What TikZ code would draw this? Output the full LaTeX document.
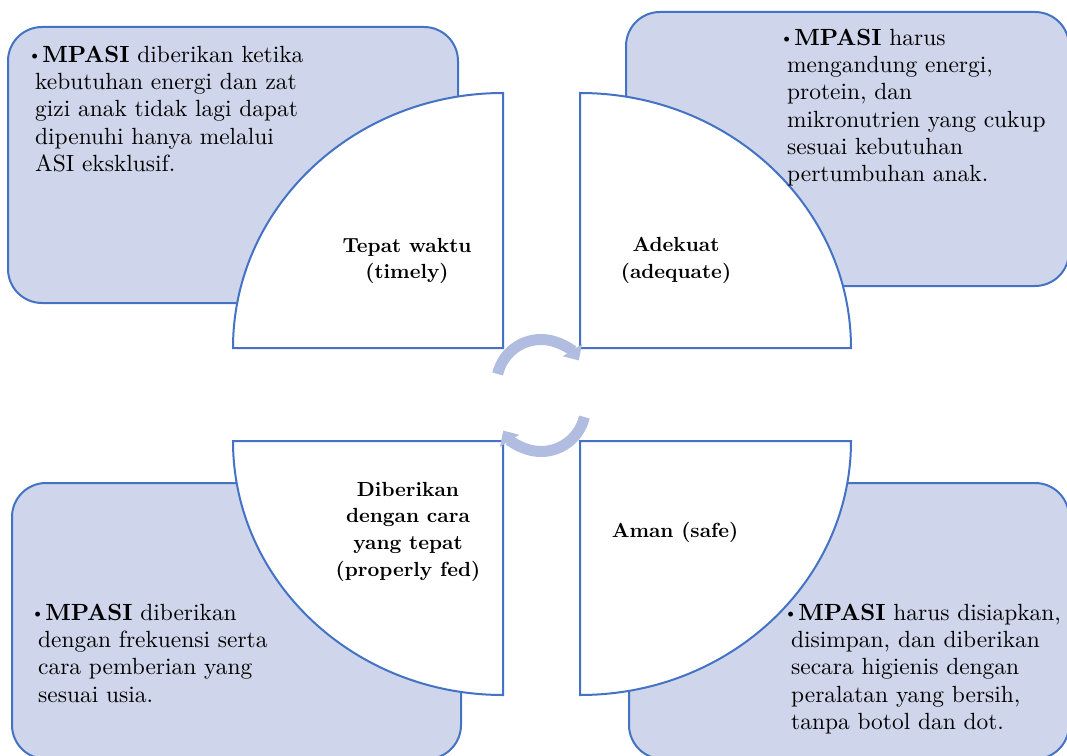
\documentclass[tikz,border=0pt]{standalone}
\usepackage{fontspec}
\setmainfont{lmroman10-regular.otf}[BoldFont=lmroman10-bold.otf]
\usetikzlibrary{arrows.meta}
\definecolor{Frame}{HTML}{4472C4}
\definecolor{BoxTint}{HTML}{CFD5EA}
\definecolor{Cycle}{HTML}{B1BDE0}
\newcommand{\mpasibullet}{\hspace*{-7bp}\raisebox{1.5bp}{\fontsize{17}{17}\selectfont\textbullet}\hspace{1bp}}
\tikzset{
  tintbox/.style={draw=Frame,fill=BoxTint,line width=2bp,rounded corners=34bp},
  quarter/.style={draw=Frame,fill=white,line width=2bp},
  cyclearrow/.style={draw=Cycle,line width=11bp,-{Triangle[length=12bp,width=22bp]}},
  boxtext/.style={font=\fontsize{23.5}{27.4}\selectfont,align=left,anchor=north west,inner sep=0bp},
  quartertext/.style={font=\bfseries\fontsize{20.5}{27}\selectfont,align=center,anchor=north,inner sep=0bp}
}

\begin{document}
\begin{tikzpicture}[x=1bp,y=-1bp]
  \path[use as bounding box] (0,0) rectangle (1067,756);

  % Four tinted boxes, then the white quarter discs on top of them.
  \draw[tintbox] (8,27) rectangle (458,303);
  \draw[tintbox] (626,12) rectangle (1069,286);
  \draw[tintbox] (12,483) rectangle (461,759);
  \draw[tintbox] (629,483) rectangle (1069,759);
  \draw[quarter] (503,348) -- (233,348)
    arc[start angle=180,end angle=270,x radius=270,y radius=255] -- cycle;
  \draw[quarter] (580,348) -- (580,93)
    arc[start angle=270,end angle=360,x radius=271,y radius=255] -- cycle;
  \draw[quarter] (503,441) -- (233,441)
    arc[start angle=180,end angle=90,x radius=270,y radius=254] -- cycle;
  \draw[quarter] (580,441) -- (580,695)
    arc[start angle=90,end angle=0,x radius=271,y radius=254] -- cycle;
  \draw[cyclearrow] (541,384) ++(-167:44.5) arc[start angle=-167,end angle=-32,radius=44.5];
  \draw[cyclearrow] (541,407) ++(13:44.5) arc[start angle=13,end angle=148,radius=44.5];

  \node[quartertext] (timely) at (407,237.7) {Tepat waktu\\(timely)};
  \node[quartertext] (adequate) at (676,236.7) {Adekuat\\(adequate)};
  \node[quartertext] (fed) at (408,481.7) {Diberikan\\dengan cara\\yang tepat\\(properly fed)};
  \node[quartertext] (safe) at (675,521.5) {Aman (safe)};

  \node[boxtext] (timelynote) at (35,45.7) {\mpasibullet\textbf{MPASI} diberikan ketika\\
    kebutuhan energi dan zat\\gizi anak tidak lagi dapat\\dipenuhi hanya melalui\\ASI eksklusif.};
  \node[boxtext] (adequatenote) at (787,28.7) {\mpasibullet\textbf{MPASI} harus\\
    mengandung energi,\\protein, dan\\mikronutrien yang cukup\\sesuai kebutuhan\\pertumbuhan anak.};
  \node[boxtext] (fednote) at (38,603.7) {\mpasibullet\textbf{MPASI} diberikan\\
    dengan frekuensi serta\\cara pemberian yang\\sesuai usia.};
  \node[boxtext] (safenote) at (791,603.7) {\mpasibullet\textbf{MPASI} harus disiapkan,\\
    disimpan, dan diberikan\\secara higienis dengan\\peralatan yang bersih,\\tanpa botol dan dot.};
\end{tikzpicture}
\end{document}
